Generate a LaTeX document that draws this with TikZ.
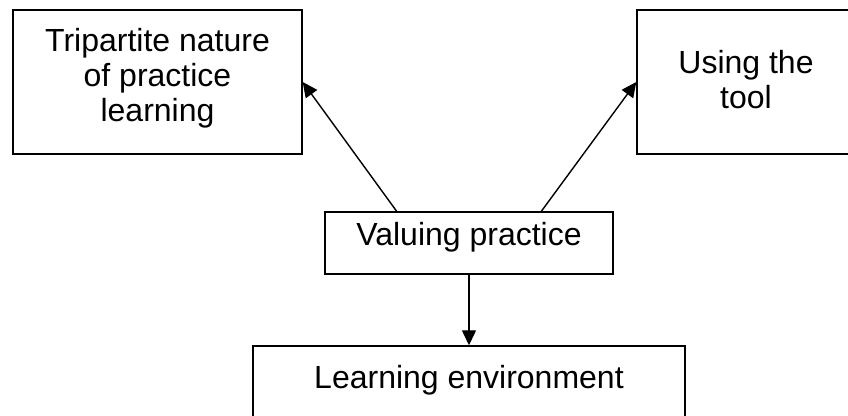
\documentclass[tikz,border=0pt]{standalone}
\usepackage{fontspec}
\setmainfont{Liberation Sans}
\usetikzlibrary{arrows.meta, positioning, calc}
% fixed-size box, text pushed down from the top edge
\newcommand{\boxtext}[4]{\parbox[c][#2][t]{#1}{\centering\vspace*{#3}#4}}

\begin{document}
\begin{tikzpicture}[x=0.5pt,y=-0.5pt,
        box/.style={draw, line width=0.7pt, inner sep=0pt, font=\fontsize{16}{17.5}\selectfont},
        link/.style={-{Triangle[length=7.5pt,width=7pt]}, line width=0.7pt}]
        \useasboundingbox (0,0) rectangle (848,416);
        \clip (0,0) rectangle (848,416);
        \node[box] (tri) at (157.5,82) {\boxtext{144.5pt}{72pt}{9pt}{Tripartite nature\\ of practice\\ learning}};
        \node[box] (tool) at (746,82) {\boxtext{109pt}{72pt}{20pt}{Using the\\ tool}};
        \node[box] (val) at (469,243) {\boxtext{144pt}{31pt}{5pt}{Valuing practice}};
        \node[box] (env) at (469,388) {\boxtext{216pt}{42pt}{9.5pt}{Learning environment}};
        \draw[link] ($(val.north west)!0.25!(val.north east)$) -- (tri.east);
        \draw[link] ($(val.north west)!0.75!(val.north east)$) -- (tool.west);
        \draw[link] (val.south) -- (env.north);
\end{tikzpicture}
\end{document}
